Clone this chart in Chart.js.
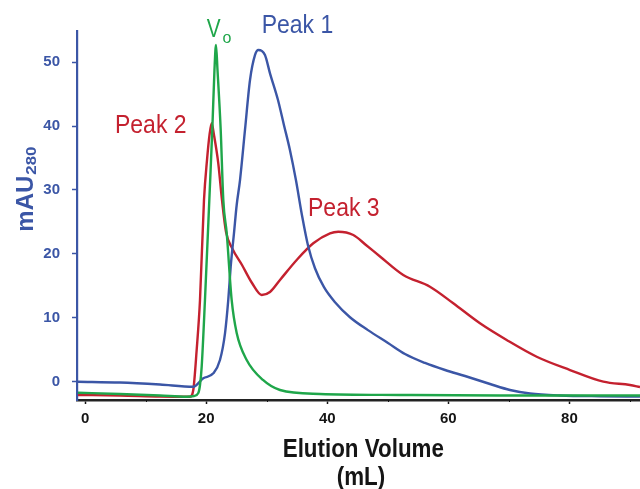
<!DOCTYPE html>
<html><head><meta charset="utf-8">
<script src="https://cdn.jsdelivr.net/npm/chart.js@4"></script>
<style>html,body{margin:0;padding:0;background:#fff;}#wrap{width:640px;height:489px;}</style>
</head><body><div id="wrap"><canvas id="c" width="640" height="489"></canvas></div>
<script>
// ---- data (elution volume in mL, absorbance in mAU280) ----
const peak1Volume = [-1.17, 5.77, 12.37, 17.87, 19.52, 21.18, 22.28, 23.11, 23.65, 24.05, 24.59, 25.04, 25.59, 26.41, 27.24, 28.07, 28.61, 29.71, 30.54, 31.86, 32.85, 33.84, 34.83, 35.82, 36.81, 37.97, 39.46, 41.28, 43.75, 46.72, 50.03, 52.84, 56.14, 59.45, 62.75, 66.88, 70.18, 73.48, 78.44, 85.04, 91.65];
const peak1Abs    = [0.00, -0.13, -0.44, -0.78, 0.53, 1.31, 3.40, 7.57, 12.79, 18.00, 23.22, 27.65, 31.56, 39.39, 47.21, 51.13, 51.91, 51.13, 48.26, 44.08, 40.14, 36.23, 31.53, 26.06, 21.36, 17.76, 14.79, 12.44, 10.09, 8.07, 6.06, 4.33, 2.93, 1.83, 0.89, -0.36, -1.30, -1.85, -2.16, -2.28, -2.32];

const peak23Volume = [-1.17, 5.77, 12.37, 17.33, 17.87, 18.43, 18.98, 19.64, 20.14, 20.55, 20.91, 21.29, 22.00, 22.61, 23.28, 24.27, 25.92, 27.57, 29.17, 30.54, 32.19, 34.95, 37.69, 40.45, 41.82, 44.30, 46.39, 48.71, 52.55, 56.96, 60.81, 65.22, 69.63, 74.59, 80.09, 85.59, 89.99, 91.65];
const peak23Abs    = [-2.08, -2.16, -2.32, -2.35, -1.30, 4.96, 12.79, 28.44, 34.70, 38.61, 40.44, 38.61, 34.18, 28.44, 23.43, 20.92, 18.26, 15.44, 13.57, 14.04, 15.92, 19.05, 21.66, 23.22, 23.47, 22.96, 21.39, 19.60, 16.70, 14.87, 12.27, 9.14, 6.53, 3.91, 1.83, 0.00, -0.52, -0.83];

const voidVolume = [-1.17, 5.77, 12.37, 16.78, 17.99, 18.70, 18.98, 19.26, 19.80, 20.52, 21.01, 21.37, 21.62, 21.87, 22.40, 22.83, 23.39, 24.21, 25.04, 26.69, 29.38, 32.19, 38.80, 52.01, 68.52, 91.65];
const voidAbs    = [-1.72, -1.92, -2.16, -2.35, -2.24, -1.77, -0.52, 2.35, 12.79, 28.44, 39.39, 48.78, 52.69, 48.78, 39.39, 28.44, 23.27, 12.79, 7.62, 3.40, 0.27, -1.30, -1.92, -2.08, -2.16, -2.16];

const xTickValues = [0, 20, 40, 60, 80];
const xMinorTickValues = [10, 30, 50, 70, 90];
const yTickValues = [0, 10, 20, 30, 40, 50];
const seriesNames = ['Peak 1', 'Peak 2 / Peak 3', 'Vo'];

// ---- styling ----
const BLUE = '#3b56a6', RED = '#c4212f', GREEN = '#1fa64a', INK = '#151515';
const FONT = '"Liberation Sans", Arial, Helvetica, sans-serif';

function pts(xs, ys) { return xs.map((x, i) => ({ x: x, y: ys[i] })); }

function drawText(ctx, txt, x, y, font, color, sx, align) {
  ctx.save();
  ctx.font = font; ctx.fillStyle = color;
  ctx.textBaseline = 'alphabetic'; ctx.textAlign = 'left';
  const w = ctx.measureText(txt).width * sx;
  const x0 = align === 'center' ? x - w / 2 : x;
  ctx.translate(x0, y); ctx.scale(sx, 1);
  ctx.fillText(txt, 0, 0);
  ctx.restore();
  return w;
}

const labelPlugin = {
  id: 'labels',
  afterDraw(chart) {
    const ctx = chart.ctx, xs = chart.scales.x, ys = chart.scales.y;
    // minor x ticks
    ctx.save(); ctx.strokeStyle = INK; ctx.lineWidth = 1;
    xMinorTickValues.forEach(v => {
      const px = Math.round(xs.getPixelForValue(v)) + 0.5;
      if (px < chart.chartArea.right) { ctx.beginPath(); ctx.moveTo(px, chart.chartArea.bottom); ctx.lineTo(px, chart.chartArea.bottom + 2); ctx.stroke(); }
    });
    ctx.restore();
    // peak annotations (anchored in data coordinates)
    const f = '25px ' + FONT;
    drawText(ctx, 'Peak 1', xs.getPixelForValue(29.17), ys.getPixelForValue(54.52), f, BLUE, 0.92, 'left');
    drawText(ctx, 'Peak 2', xs.getPixelForValue(4.94), ys.getPixelForValue(38.97), f, RED, 0.92, 'left');
    drawText(ctx, 'Peak 3', xs.getPixelForValue(36.82), ys.getPixelForValue(26.0), f, RED, 0.92, 'left');
    const vx = xs.getPixelForValue(20.09), vy = ys.getPixelForValue(53.99);
    const wV = drawText(ctx, 'V', vx, vy, '26px ' + FONT, GREEN, 0.8, 'left');
    drawText(ctx, 'o', vx + wV + 2, vy + 6.6, '16px ' + FONT, GREEN, 1, 'left');
    // y axis title
    ctx.save();
    ctx.translate(33.3, 231.7); ctx.rotate(-Math.PI / 2);
    ctx.fillStyle = BLUE; ctx.textBaseline = 'alphabetic'; ctx.textAlign = 'left';
    ctx.font = 'bold 24px ' + FONT;
    ctx.fillText('mAU', 0, 0);
    const w = ctx.measureText('mAU').width;
    ctx.translate(w + 1, 2.7); ctx.scale(1.12, 1);
    ctx.font = 'bold 15px ' + FONT;
    ctx.fillText('280', 0, 0);
    ctx.restore();
    // x axis title
    drawText(ctx, 'Elution Volume', 363.3, 456.7, 'bold 25px ' + FONT, INK, 0.895, 'center');
    drawText(ctx, '(mL)', 361, 484.5, 'bold 25px ' + FONT, INK, 0.895, 'center');
  }
};

const lineStyle = { borderWidth: 2.4, pointRadius: 0, cubicInterpolationMode: 'monotone', fill: false };

new Chart(document.getElementById('c'), {
  type: 'line',
  data: {
    datasets: [
      Object.assign({ label: seriesNames[2], data: pts(voidVolume, voidAbs), borderColor: GREEN }, lineStyle),
      Object.assign({ label: seriesNames[0], data: pts(peak1Volume, peak1Abs), borderColor: BLUE }, lineStyle),
      Object.assign({ label: seriesNames[1], data: pts(peak23Volume, peak23Abs), borderColor: RED }, lineStyle)
    ]
  },
  options: {
    responsive: false,
    animation: false,
    events: [],
    layout: { padding: { top: 31, right: 0, left: 0, bottom: 0 } },
    plugins: { legend: { display: false }, tooltip: { enabled: false }, title: { display: false } },
    scales: {
      x: {
        type: 'linear', min: -1.334, max: 91.65,
        afterBuildTicks: s => { s.ticks = xTickValues.map(v => ({ value: v })); },
        afterFit: s => { s.height = 89; },
        ticks: { color: INK, font: { family: FONT, size: 15, weight: 'bold' }, padding: 6, maxRotation: 0, autoSkip: false },
        grid: { drawOnChartArea: false, drawTicks: true, tickLength: 4, tickColor: INK, tickWidth: 1.5 },
        border: { display: true, color: '#222', width: 2.5 }
      },
      y: {
        type: 'linear', min: -2.864, max: 54.88,
        afterBuildTicks: s => { s.ticks = yTickValues.map(v => ({ value: v })); },
        afterFit: s => { s.width = 77; },
        ticks: { color: BLUE, font: { family: FONT, size: 15, weight: 'bold' }, padding: 12 },
        grid: { drawOnChartArea: false, drawTicks: true, tickLength: 5, tickColor: BLUE, tickWidth: 1.5 },
        border: { display: true, color: BLUE, width: 2.2 }
      }
    }
  },
  plugins: [labelPlugin]
});
</script>
</body></html>
